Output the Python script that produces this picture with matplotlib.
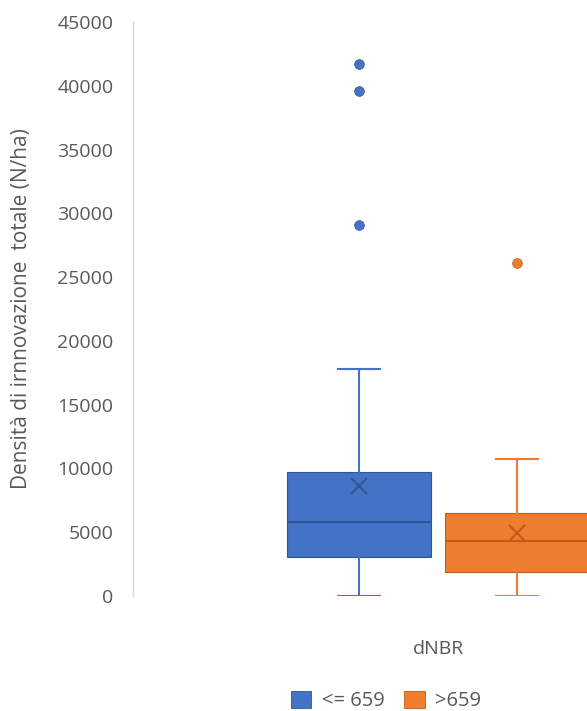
import matplotlib
matplotlib.use("Agg")
import matplotlib.pyplot as plt
from matplotlib.patches import Patch

plt.rcParams['font.family'] = ['Open Sans', 'DejaVu Sans']

# ---- data ----
series = ["<= 659", ">659"]
category = "dNBR"
whisker_low = [0, 0]
q1 = [3080, 1900]
median = [5775, 4330]
q3 = [9740, 6480]
whisker_high = [17790, 10760]
mean = [8650, 4960]
outliers = [[29080, 39600, 41690], [26120]]
yticks = [0, 5000, 10000, 15000, 20000, 25000, 30000, 35000, 40000, 45000]

fills = ["#4472C4", "#ED7D31"]
darks = ["#2F5597", "#C55A11"]
text_col = "#595959"

W, H = 587, 711
fig = plt.figure(figsize=(W / 100, H / 100), dpi=100)
# axes extends beyond the right edge (reference is cropped)
left, right, top, bottom = 133, 743, 22, 596
ax = fig.add_axes([left / W, 1 - bottom / H, (right - left) / W, (bottom - top) / H])

offsets = [-0.1295, 0.1295]
box_w = 0.236
for i in range(2):
    st = [dict(med=median[i], q1=q1[i], q3=q3[i], whislo=whisker_low[i],
               whishi=whisker_high[i], mean=mean[i], fliers=outliers[i])]
    ax.bxp(st, positions=[0.5 + offsets[i]], widths=box_w, showmeans=True,
           patch_artist=True, manage_ticks=False,
           boxprops=dict(facecolor=fills[i], edgecolor=darks[i], linewidth=0.8),
           medianprops=dict(color=darks[i], linewidth=1.5),
           whiskerprops=dict(color=fills[i], linewidth=1.5),
           capprops=dict(color=fills[i], linewidth=1.5),
           capwidths=0.069,
           meanprops=dict(marker="x", markeredgecolor=darks[i], markersize=12,
                          markeredgewidth=1.5),
           flierprops=dict(marker="o", markerfacecolor=fills[i],
                           markeredgecolor=darks[i], markersize=7,
                           markeredgewidth=0.5))

ax.set_xlim(0, 1)
ax.set_ylim(0, 45000)
ax.set_yticks(yticks)
ax.set_yticklabels([str(v) for v in yticks])
ax.set_xticks([0.5])
ax.set_xticklabels([category])
ax.tick_params(axis="both", length=0, colors=text_col, labelsize=14)
ax.tick_params(axis="y", pad=14)
ax.tick_params(axis="x", pad=32)

for s in ["top", "right", "bottom"]:
    ax.spines[s].set_visible(False)
ax.spines["left"].set_color("#D9D9D9")
ax.spines["left"].set_linewidth(1)

ax.set_ylabel("Densità di irnnovazione  totale (N/ha)", color=text_col, fontsize=15)
ax.yaxis.set_label_coords(-0.166, 0.5)

handles = [Patch(facecolor=fills[i], edgecolor=darks[i], linewidth=0.6) for i in range(2)]
fig.legend(handles, series, loc="center", bbox_to_anchor=(386 / W, 1 - 701 / H),
           ncol=2, frameon=False, fontsize=14.5, labelcolor=text_col,
           handlelength=1.0, handleheight=0.9, handletextpad=0.5, columnspacing=1.0,
           borderpad=0)

fig.savefig("out.png", dpi=100)
